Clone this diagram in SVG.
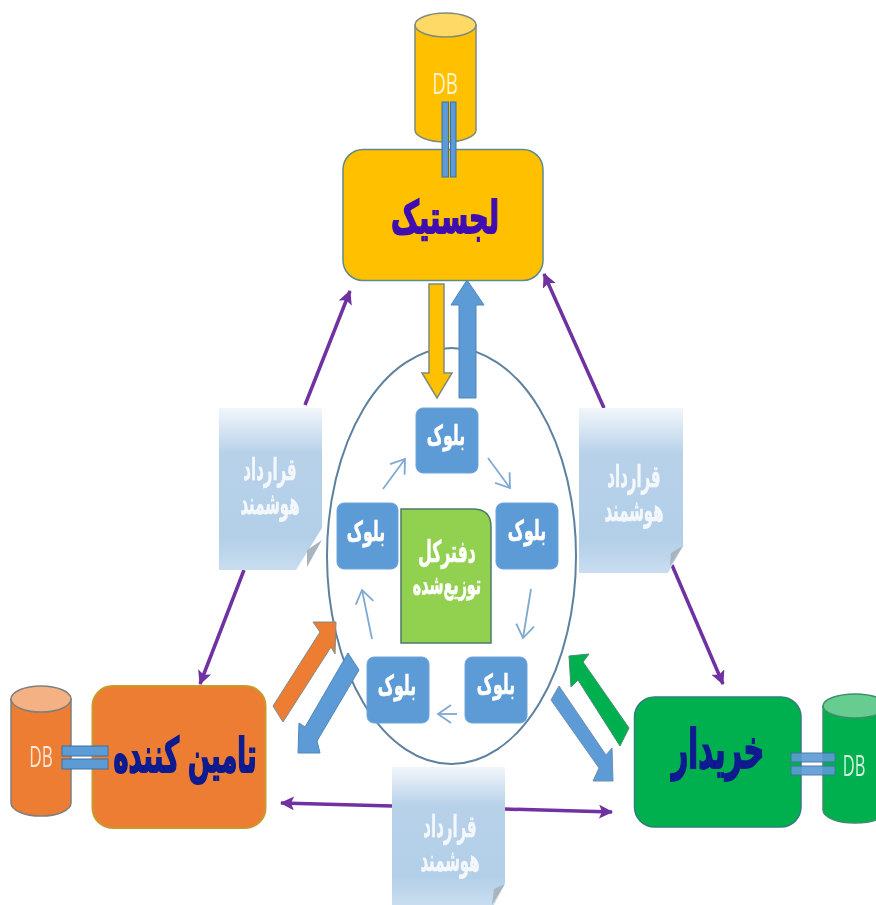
<svg xmlns="http://www.w3.org/2000/svg" width="876" height="905" viewBox="0 0 876 905">
<style>
.fa{font-family:"DejaVu Sans","Noto Sans",sans-serif;font-weight:700;text-anchor:middle;direction:rtl}
.db{font-family:"Open Sans","Liberation Sans",sans-serif;font-size:22px;text-anchor:middle}
.blk{fill:#5B9BD5;stroke:#6FA5D8;stroke-width:1}
.blkt{fill:#fff;stroke:#fff;stroke-width:.5px;font-size:21px}
.nt{fill:#fff;stroke:#fff;stroke-width:.4px;font-size:22px;opacity:.85}
.pipe{fill:#5B9BD5;stroke:#41719C;stroke-width:1}
.pl{fill:none;stroke:#7030A0;stroke-width:3.5;marker-end:url(#pa)}
.tl{fill:none;stroke:#7FA9D3;stroke-width:1.8;marker-end:url(#ta)}
</style>
<defs>
<marker id="pa" markerUnits="userSpaceOnUse" markerWidth="16" markerHeight="16" refX="13" refY="7" orient="auto"><path d="M0 0L14 7L0 14L3 7Z" fill="#7030A0"/></marker>
<marker id="ta" markerUnits="userSpaceOnUse" markerWidth="18" markerHeight="20" refX="15" refY="10" orient="auto"><path d="M2 1L15 10L2 19" fill="none" stroke="#7FA9D3" stroke-width="1.8"/></marker>
<linearGradient id="ng" x1="0" y1="0" x2="0" y2="1"><stop offset="0" stop-color="#F2F6FB"/><stop offset=".28" stop-color="#B7D1E9"/><stop offset=".8" stop-color="#B3CFE8"/><stop offset="1" stop-color="#C9DDEF"/></linearGradient>
<filter id="soft" x="-2%" y="-2%" width="104%" height="104%"><feGaussianBlur stdDeviation="0.45"/></filter>
</defs>
<rect width="876" height="905" fill="#fff"/>
<g filter="url(#soft)">
<g id="connectors">
<ellipse cx="451.500" cy="556" rx="124.500" ry="208" fill="#fff" stroke="#5D819F" stroke-width="2"/>
<path class="pl" d="M305 405L350 291"/>
<path class="pl" d="M244 570L200 684"/>
<path class="pl" d="M604 408L544 274"/>
<path class="pl" d="M672 565L723 684"/>
<path class="pl" d="M392 806L281 803"/>
<path class="pl" d="M504 809L612 812"/>
<path class="tl" d="M383 489L405 459"/>
<path class="tl" d="M488 458L510 488"/>
<path class="tl" d="M531 589L523 638"/>
<path class="tl" d="M457 714L438 714"/>
<path class="tl" d="M372 639L362 590"/>
<polygon points="429,284 444,284 444,373 452,373 437,398 422,373 429,373" fill="#FFC000" stroke="#7F8C7A" stroke-width="1.500"/>
<polygon points="459,398 476,398 476,305 484,305 467,280 451,305 459,305" fill="#5B9BD5" stroke="#4F86B8" stroke-width="1"/>
<polygon points="273,706 320,632 313,622 336,622 335,654 331,647 283,722" fill="#ED7D31" stroke="#7F8C8A" stroke-width="1"/>
<polygon points="348,653 359,670 317,741 320,753 298,753 299,723 305,727" fill="#5B9BD5" stroke="#4F86B8" stroke-width="1"/>
<polygon points="569,656 589,654 583,662 629,728 620,746 578,680 571,687" fill="#00B050" stroke="#3C8F6A" stroke-width="1"/>
<polygon points="559,686 551,700 599,768 593,781 613,781 612,748 606,755" fill="#5B9BD5" stroke="#6C8FB0" stroke-width="1"/>
</g>
<g id="note-left">
<path d="M219 408H322V528L296 570H219Z" fill="url(#ng)"/>
<path d="M322 540L307 550L307 567Z" fill="#A9B4BD"/>
</g>
<g id="note-right">
<path d="M579 408H683V546L668 573H579Z" fill="url(#ng)"/>
<path d="M683 546L671 553L670 566Z" fill="#A9B4BD"/>
</g>
<g id="note-bottom">
<path d="M392 767H505V883L494 905H392Z" fill="url(#ng)"/>
<path d="M505 884L494 889L492 905Z" fill="#A9B4BD"/>
</g>
<g id="db-logistics">
<path d="M415 25V130A30.500 12 0 0 0 476 130V25Z" fill="#FFC000" stroke="#7F8C7A" stroke-width="1.500"/>
<ellipse cx="445.500" cy="25" rx="30.500" ry="12" fill="#FFD966" stroke="#7F8C7A" stroke-width="1.500"/>
<text class="db" transform="translate(445 94) scale(.85 1.350)" fill="#FFF2CC">DB</text>
</g>
<g id="logistics">
<rect x="343" y="149.500" width="200" height="131" rx="20" fill="#FFC000" stroke="#5E8A8A" stroke-width="1.500"/>
<text class="fa" transform="translate(445 233) scale(.76 1.250)" font-size="36" fill="#3F0FB0" stroke="#3F0FB0" stroke-width="1.500">لجستیک</text>
</g>
<g id="pipe-logistics">
<rect class="pipe" x="442" y="102" width="6.500" height="75"/>
<rect class="pipe" x="450.500" y="102" width="5.500" height="75"/>
</g>
<g id="db-supplier">
<path d="M11 699V803A30 13 0 0 0 71 803V699Z" fill="#ED7D31" stroke="#7F7F7F" stroke-width="1.500"/>
<ellipse cx="41" cy="699" rx="30" ry="13" fill="#F4B183" stroke="#7F7F7F" stroke-width="1.500"/>
<text class="db" transform="translate(41 767) scale(.78 1.300)" fill="#FBE5D6">DB</text>
</g>
<g id="supplier">
<rect x="92.500" y="686" width="173" height="142" rx="20" fill="#ED7D31" stroke="#C99A2B" stroke-width="2"/>
<text class="fa" transform="translate(185 772) scale(.8 1.500)" font-size="32" fill="#0A1A8F" stroke="#0A1A8F" stroke-width="1.300">تامین کننده</text>
</g>
<g id="pipe-supplier">
<rect class="pipe" x="62" y="746" width="46" height="10"/>
<rect class="pipe" x="62" y="759" width="46" height="10"/>
</g>
<g id="db-buyer">
<path d="M823 706V810A32 13 0 0 0 887 810V706Z" fill="#00B050" stroke="#3C8F6A" stroke-width="1.500"/>
<ellipse cx="855" cy="706" rx="32" ry="12" fill="#66CC8F" stroke="#3C8F6A" stroke-width="1.500"/>
<text class="db" transform="translate(854 776) scale(.75 1.300)" fill="#D5F2E0">DB</text>
</g>
<g id="buyer">
<rect x="634.500" y="697" width="166.500" height="130" rx="20" fill="#00B050" stroke="#2F7F7A" stroke-width="1.500"/>
<text class="fa" transform="translate(718 768) scale(.8 1.500)" font-size="36" fill="#0A1A8F" stroke="#0A1A8F" stroke-width="1.300">خریدار</text>
</g>
<g id="pipe-buyer">
<rect class="pipe" x="791" y="753" width="44" height="9" opacity=".9"/>
<rect class="pipe" x="791" y="766" width="44" height="9" opacity=".9"/>
</g>
<g id="block-top"><rect class="blk" x="416" y="408" width="62" height="65" rx="7"/><text class="fa blkt" transform="translate(446 445) scale(.75 1.300)">بلوک</text></g>
<g id="block-right"><rect class="blk" x="496" y="503" width="62" height="66" rx="7"/><text class="fa blkt" transform="translate(527 540) scale(.75 1.300)">بلوک</text></g>
<g id="block-bottom-right"><rect class="blk" x="465" y="657" width="62" height="66" rx="7"/><text class="fa blkt" transform="translate(496 694) scale(.75 1.300)">بلوک</text></g>
<g id="block-bottom-left"><rect class="blk" x="367" y="657" width="62" height="66" rx="7"/><text class="fa blkt" transform="translate(397 695) scale(.75 1.300)">بلوک</text></g>
<g id="block-left"><rect class="blk" x="337" y="503" width="61" height="66" rx="7"/><text class="fa blkt" transform="translate(366 541) scale(.75 1.300)">بلوک</text></g>
<g id="ledger">
<path d="M401 509H473Q491 509 491 527V643H401Z" fill="#92D050" stroke="#4E7A6A" stroke-width="1.500"/>
<text class="fa" transform="translate(447 562) scale(.68 1.300)" font-size="23" fill="#fff" stroke="#fff" stroke-width=".5">دفترکل</text>
<text class="fa" transform="translate(447 594) scale(.68 1.300)" font-size="21" fill="#fff" stroke="#fff" stroke-width=".5">توزیع‌شده</text>
</g>
<g id="note-text">
<text class="fa nt" transform="translate(270 480) scale(.68 1.400)">قرارداد</text>
<text class="fa nt" transform="translate(270 514) scale(.68 1.400)">هوشمند</text>
<text class="fa nt" transform="translate(634 487) scale(.68 1.400)">قرارداد</text>
<text class="fa nt" transform="translate(634 521) scale(.68 1.400)">هوشمند</text>
<text class="fa nt" transform="translate(450 837) scale(.68 1.400)">قرارداد</text>
<text class="fa nt" transform="translate(450 871) scale(.68 1.400)">هوشمند</text>
</g>
</g>
</svg>
